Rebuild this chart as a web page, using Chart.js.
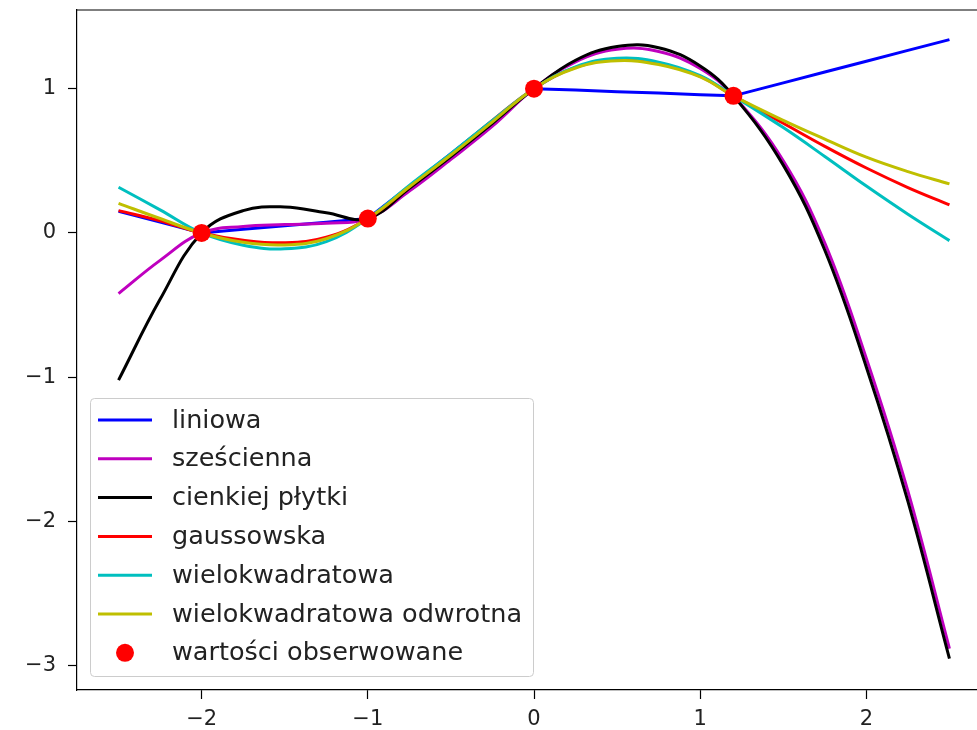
<!DOCTYPE html>
<html>
<head>
<meta charset="utf-8">
<script src="https://cdn.jsdelivr.net/npm/chart.js@4.4.1/dist/chart.umd.min.js"></script>
<style>
  body { margin: 0; overflow: hidden; background: #fff; }
  canvas { background: #fff; }
</style>
</head>
<body>
<canvas id="c" width="1000" height="730"></canvas>
<script>
const xs = [-2.5, -2.25, -2, -1.75, -1.5, -1.25, -1, -0.75, -0.5, -0.25, 0, 0.25, 0.5, 0.75, 1, 1.2, 1.5, 1.75, 2, 2.25, 2.5]

const liniowa      = [0.15, 0.075, 0, 0.025, 0.05, 0.075, 0.1, 0.325, 0.55, 0.775, 1, 0.99, 0.979, 0.969, 0.958, 0.95, 1.04, 1.115, 1.19, 1.265, 1.34]
const szescienna   = [-0.42, -0.19, 0, 0.045, 0.058, 0.068, 0.1, 0.29, 0.51, 0.74, 1, 1.186, 1.273, 1.258, 1.14, 0.95, 0.5, -0.07, -0.87, -1.79, -2.88]
const cienkiej     = [-1.02, -0.46, 0, 0.155, 0.18, 0.14, 0.1, 0.31, 0.53, 0.76, 1, 1.197, 1.292, 1.284, 1.157, 0.95, 0.47, -0.12, -0.93, -1.86, -2.95]
const gaussowska   = [0.155, 0.085, 0, -0.05, -0.068, -0.03, 0.1, 0.32, 0.545, 0.78, 1, 1.147, 1.2, 1.175, 1.085, 0.95, 0.76, 0.6, 0.45, 0.315, 0.195]
const wielokw      = [0.317, 0.16, 0, -0.085, -0.11, -0.06, 0.1, 0.33, 0.55, 0.78, 1, 1.151, 1.21, 1.184, 1.09, 0.95, 0.73, 0.53, 0.325, 0.13, -0.053]
const wielokwOdwr  = [0.205, 0.1, 0, -0.065, -0.083, -0.04, 0.1, 0.32, 0.54, 0.77, 1, 1.143, 1.194, 1.167, 1.081, 0.95, 0.78, 0.65, 0.525, 0.425, 0.34]

const obsX = [-2, -1, 0, 1.2]
const obsY = [0, 0.1, 1, 0.95]

const xTicks = [-2, -1, 0, 1, 2]
const yTicks = [-3, -2, -1, 0, 1]

const pts = ys => xs.map((x, i) => ({x: x, y: ys[i]}))
const fmt = v => v < 0 ? '\u2212' + Math.abs(v) : '' + v

function curve(label, ys, color, order, tension) {
    return {
        label: label,
        data: pts(ys),
        borderColor: color,
        backgroundColor: color,
        borderWidth: 3,
        pointRadius: 0,
        tension: tension,
        order: order,
        fill: false
    }
}

// top spine + legend box in the lower left corner, like matplotlib
const frame = {
    id: 'frame',
    afterDatasetsDraw(chart) {
        const ctx = chart.ctx, a = chart.chartArea
        ctx.save()
        ctx.strokeStyle = '#000'
        ctx.lineWidth = 1.2
        ctx.beginPath()
        ctx.moveTo(a.left, a.top)
        ctx.lineTo(a.right, a.top)
        ctx.lineTo(a.right, a.bottom)
        ctx.stroke()
        ctx.restore()
    },
    afterDraw(chart) {
        const ctx = chart.ctx
        const bx = 90, by = 398, bw = 443, bh = 278
        ctx.save()
        ctx.fillStyle = 'rgba(255,255,255,0.8)'
        ctx.strokeStyle = '#cccccc'
        ctx.lineWidth = 1
        ctx.beginPath()
        ctx.roundRect(bx + 0.5, by + 0.5, bw, bh, 4)
        ctx.fill()
        ctx.stroke()
        ctx.font = '25.5px "DejaVu Sans"'
        ctx.textBaseline = 'middle'
        ctx.textAlign = 'left'
        chart.data.datasets.forEach((ds, i) => {
            const y = 420 + i * 38.8
            if (ds.showLine === false) {
                ctx.fillStyle = ds.backgroundColor
                ctx.beginPath()
                ctx.arc(125, y, 9, 0, Math.PI * 2)
                ctx.fill()
            } else {
                ctx.strokeStyle = ds.borderColor
                ctx.lineWidth = 3
                ctx.beginPath()
                ctx.moveTo(98, y)
                ctx.lineTo(152, y)
                ctx.stroke()
            }
            ctx.fillStyle = '#222'
            ctx.fillText(ds.label, 172, y + 1)
        })
        ctx.restore()
    }
}

const tickFont = {family: '"DejaVu Sans"', size: 21}
const noPad = s => { s.paddingTop = 0; s.paddingBottom = 0; s.paddingLeft = 0; s.paddingRight = 0 }

new Chart(document.getElementById('c').getContext('2d'), {
    type: 'line',
    data: {
        datasets: [
            curve('liniowa', liniowa, '#0000ff', 6, 0),
            curve('sześcienna', szescienna, '#bf00bf', 5, 0.4),
            curve('cienkiej płytki', cienkiej, '#000000', 4, 0.4),
            curve('gaussowska', gaussowska, '#ff0000', 3, 0.4),
            curve('wielokwadratowa', wielokw, '#00bfbf', 2, 0.4),
            curve('wielokwadratowa odwrotna', wielokwOdwr, '#bfbf00', 1, 0.4),
            {
                label: 'wartości obserwowane',
                data: obsX.map((x, i) => ({x: x, y: obsY[i]})),
                showLine: false,
                pointRadius: 9,
                pointBorderWidth: 0,
                backgroundColor: '#ff0000',
                borderColor: '#ff0000',
                order: 0
            }
        ]
    },
    options: {
        responsive: false,
        animation: false,
        layout: {padding: {left: 0, top: 10, right: 7, bottom: 0}},
        plugins: {legend: {display: false}, tooltip: {enabled: false}},
        scales: {
            x: {
                type: 'linear',
                min: -2.75,
                max: 2.75,
                afterBuildTicks: s => { s.ticks = xTicks.map(v => ({value: v})) },
                afterFit: s => { s.height = 40; noPad(s) },
                grid: {drawOnChartArea: false, drawTicks: true, tickLength: 9, tickColor: '#000', tickWidth: 1.2},
                border: {color: '#000', width: 1.2},
                ticks: {color: '#222', font: tickFont, padding: 8, maxRotation: 0, autoSkip: false, callback: fmt}
            },
            y: {
                type: 'linear',
                min: -3.167,
                max: 1.545,
                afterBuildTicks: s => { s.ticks = yTicks.map(v => ({value: v})) },
                afterFit: s => { s.width = 77; noPad(s) },
                grid: {drawOnChartArea: false, drawTicks: true, tickLength: 9, tickColor: '#000', tickWidth: 1.2},
                border: {color: '#000', width: 1.2},
                ticks: {color: '#222', font: tickFont, padding: 12, autoSkip: false, callback: fmt}
            }
        }
    },
    plugins: [frame]
})
</script>
</body>
</html>
